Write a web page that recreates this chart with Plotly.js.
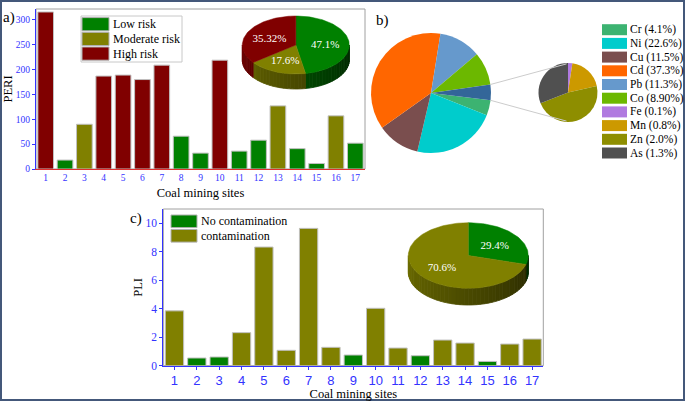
<!DOCTYPE html>
<html><head><meta charset="utf-8">
<script src="https://cdn.plot.ly/plotly-3.0.1.min.js"></script>
<style>html,body{margin:0;padding:0;background:#fff}#chart{width:685px;height:401px}</style>
</head><body><div id="chart"></div>
<script>
// ---------------- DATA ----------------
const sites = [1,2,3,4,5,6,7,8,9,10,11,12,13,14,15,16,17];
const peri = [316,18,90,187,189,180,209,66,32,219,36,58,127,41,11,107,52];
const periRisk = ['High risk','Low risk','Moderate risk','High risk','High risk','High risk','High risk','Low risk','Low risk','High risk','Low risk','Low risk','Moderate risk','Low risk','Low risk','Moderate risk','Low risk'];
const riskClasses = ['Low risk','Moderate risk','High risk'];
const riskColors = ['#008000','#808000','#800000'];
const riskPieShares = [47.1, 17.6, 35.32];
const riskPieLabels = ['47.1%','17.6%','35.32%'];

const mainMetals = ['Cr','Ni','Cu','Cd','Pb','Co'];
const mainShares = [4.1,22.6,11.5,37.3,11.3,8.9];
const mainColors = ['#3cb371','#00cccc','#7a4e4e','#ff6600','#6699cc','#6cb800'];
const minorMetals = ['Fe','Mn','Zn','As'];
const minorShares = [0.1,0.8,2.0,1.3];
const minorColors = ['#b07ae0','#cc9900','#8e8e00','#505050'];
const otherLabel = 'Fe+Mn+Zn+As';
const otherColor = '#336699';
const metalLegendText = ['Cr (4.1%)','Ni (22.6%)','Cu (11.5%)','Cd (37.3%)','Pb (11.3%)','Co (8.90%)','Fe (0.1%)','Mn (0.8%)','Zn (2.0%)','As (1.3%)'];

const pli = [3.85,0.54,0.61,2.32,8.33,1.08,9.64,1.29,0.75,4.03,1.24,0.70,1.80,1.59,0.30,1.52,1.87];
const pliClass = ['contamination','No contamination','No contamination','contamination','contamination','contamination','contamination','contamination','No contamination','contamination','contamination','No contamination','contamination','contamination','No contamination','contamination','contamination'];
const pliClasses = ['No contamination','contamination'];
const pliColors = ['#008000','#808000'];
const pliPieShares = [29.4, 70.6];
const pliPieLabels = ['29.4%','70.6%'];

// ---------------- HELPERS ----------------
const W = 685, H = 401;
const px = x => x / W, py = y => 1 - y / H;
const serif = 'Liberation Serif, Times New Roman, serif';
const sans = 'Liberation Sans, Arial, sans-serif';
const blue = '#3333ff';

function shade(hex, f) {
  const n = parseInt(hex.slice(1), 16);
  const r = Math.round(((n >> 16) & 255) * f), g = Math.round(((n >> 8) & 255) * f), b = Math.round((n & 255) * f);
  return 'rgb(' + r + ',' + g + ',' + b + ')';
}

function pie3d(shares, colors, labels, geo) {
  const out = [];
  const total = shares.reduce((a, b) => a + b, 0);
  let acc = 0;
  const slices = shares.map((v, i) => { const a1 = acc; acc += v / total * 360; return {a1: a1, a2: acc, i: i}; });
  const pt = (deg, dy) => [geo.cx + geo.rx * Math.sin(deg * Math.PI / 180), geo.cy - geo.ry * Math.cos(deg * Math.PI / 180) + (dy || 0)];
  // side walls (front half only)
  slices.forEach(s => {
    const lo = Math.max(s.a1, 90), hi = Math.min(s.a2, 270);
    if (hi <= lo) return;
    const n = Math.max(1, Math.ceil((hi - lo) / 4));
    for (let k = 0; k < n; k++) {
      const t1 = lo + (hi - lo) * k / n, t2 = lo + (hi - lo) * (k + 1) / n, tm = (t1 + t2) / 2;
      const P = [pt(t1), pt(tm), pt(t2), pt(t2, geo.depth), pt(tm, geo.depth), pt(t1, geo.depth), pt(t1)];
      const c = shade(colors[s.i], 0.3 + 0.55 * ((tm - 90) / 180));
      out.push({type: 'scatter', xaxis: 'x3', yaxis: 'y3', x: P.map(p => p[0]), y: P.map(p => p[1]),
        mode: 'lines', fill: 'toself', fillcolor: c, line: {color: c, width: 0.8}, hoverinfo: 'skip', showlegend: false});
    }
  });
  // top faces
  slices.forEach(s => {
    const P = [[geo.cx, geo.cy]];
    const n = Math.max(2, Math.ceil((s.a2 - s.a1) / 2));
    for (let k = 0; k <= n; k++) P.push(pt(s.a1 + (s.a2 - s.a1) * k / n));
    P.push([geo.cx, geo.cy]);
    out.push({type: 'scatter', xaxis: 'x3', yaxis: 'y3', x: P.map(p => p[0]), y: P.map(p => p[1]),
      mode: 'lines', fill: 'toself', fillcolor: colors[s.i], line: {color: colors[s.i], width: 0.5}, hoverinfo: 'skip', showlegend: false});
  });
  // labels
  const L = slices.map(s => pt((s.a1 + s.a2) / 2).map((v, j) => j === 0 ? geo.cx + (v - geo.cx) * 0.55 : geo.cy + (v - geo.cy) * 0.55 + 1.5));
  out.push({type: 'scatter', xaxis: 'x3', yaxis: 'y3', mode: 'text', x: L.map(p => p[0]), y: L.map(p => p[1]),
    text: labels, textfont: {family: serif, size: 11, color: '#ffffff'}, hoverinfo: 'skip', showlegend: false});
  return out;
}

// ---------------- TRACES ----------------
const traces = [];
traces.push({type: 'bar', x: sites, y: peri, xaxis: 'x', yaxis: 'y', width: 0.81,
  marker: {color: periRisk.map(r => riskColors[riskClasses.indexOf(r)]), line: {color: '#c0c0c0', width: 1}},
  hoverinfo: 'skip', showlegend: false});
traces.push({type: 'bar', x: sites, y: pli, xaxis: 'x2', yaxis: 'y2', width: 0.82,
  marker: {color: pliClass.map(r => pliColors[pliClasses.indexOf(r)]), line: {color: '#c0c0c0', width: 1}},
  hoverinfo: 'skip', showlegend: false});

const otherSum = minorShares.reduce((a, b) => a + b, 0);
const big = {cx: 431, cy: 93, r: 60};
const small = {cx: 568, cy: 92.5, r: 29.5};
traces.push({type: 'pie', labels: mainMetals.concat([otherLabel]), values: mainShares.concat([otherSum]),
  marker: {colors: mainColors.concat([otherColor]), line: {width: 0}}, sort: false, direction: 'clockwise', rotation: 97,
  textinfo: 'none', hoverinfo: 'none', showlegend: false,
  domain: {x: [px(big.cx - big.r), px(big.cx + big.r)], y: [py(big.cy + big.r), py(big.cy - big.r)]}});
traces.push({type: 'pie', labels: minorMetals, values: minorShares,
  marker: {colors: minorColors, line: {width: 0}}, sort: false, direction: 'clockwise', rotation: 0,
  textinfo: 'none', hoverinfo: 'none', showlegend: false,
  domain: {x: [px(small.cx - small.r), px(small.cx + small.r)], y: [py(small.cy + small.r), py(small.cy - small.r)]}});

pie3d(riskPieShares, riskColors, riskPieLabels, {cx: 295.8, cy: 45, rx: 53.5, ry: 29, depth: 15}).forEach(t => traces.push(t));
pie3d(pliPieShares, pliColors, pliPieLabels, {cx: 468.3, cy: 255.5, rx: 60, ry: 32.8, depth: 16.7}).forEach(t => traces.push(t));

// ---------------- LAYOUT ----------------
const shapes = [], annotations = [];
// plot frames
shapes.push({type: 'rect', xref: 'x domain', yref: 'y domain', x0: 0, x1: 1, y0: 0, y1: 1, line: {color: '#a0a0a0', width: 1}, layer: 'below'});
shapes.push({type: 'rect', xref: 'x2 domain', yref: 'y2 domain', x0: 0, x1: 1, y0: 0, y1: 1, line: {color: '#a0a0a0', width: 1}, layer: 'below'});
// outer figure border
shapes.push({type: 'rect', xref: 'paper', yref: 'paper', x0: 0, x1: 1, y0: 0, y1: 1, line: {color: '#44587a', width: 4}});

// legend a
shapes.push({type: 'rect', xref: 'paper', yref: 'paper', x0: px(81), x1: px(182), y0: py(62), y1: py(16), line: {color: '#c8c8c8', width: 1}, fillcolor: '#ffffff'});
riskClasses.forEach((c, i) => {
  const yc = 24.2 + i * 14.7;
  shapes.push({type: 'rect', xref: 'paper', yref: 'paper', x0: px(82), x1: px(109), y0: py(yc + 6.6), y1: py(yc - 6.6), fillcolor: riskColors[i], line: {color: '#b0b0b0', width: 1}});
  annotations.push({xref: 'paper', yref: 'paper', x: px(111), y: py(yc), xanchor: 'left', yanchor: 'middle', text: c, showarrow: false, font: {family: serif, size: 12, color: '#000'}});
});
// legend c
pliClasses.forEach((c, i) => {
  const yc = 221.3 + i * 14.5;
  shapes.push({type: 'rect', xref: 'paper', yref: 'paper', x0: px(171), x1: px(197), y0: py(yc + 6.3), y1: py(yc - 6.3), fillcolor: pliColors[i], line: {color: '#b0b0b0', width: 1}});
  annotations.push({xref: 'paper', yref: 'paper', x: px(199), y: py(yc), xanchor: 'left', yanchor: 'middle', text: c, showarrow: false, font: {family: serif, size: 12, color: '#000'}});
});
// legend b
const allMetalColors = mainColors.concat(minorColors);
metalLegendText.forEach((t, i) => {
  const yc = 29.7 + i * 13.7;
  shapes.push({type: 'rect', xref: 'paper', yref: 'paper', x0: px(602), x1: px(627), y0: py(yc + 5.5), y1: py(yc - 5.5), fillcolor: allMetalColors[i], line: {width: 0}});
  annotations.push({xref: 'paper', yref: 'paper', x: px(627.5), y: py(yc), xanchor: 'left', yanchor: 'middle', text: t, showarrow: false, font: {family: serif, size: 11.5, color: '#000'}});
});
// connector lines between the pies (from the edges of the grouped slice)
const otherStart = 97 - otherSum / (mainShares.reduce((a, b) => a + b, 0) + otherSum) * 360;
[otherStart, 97].forEach((a, k) => {
  const x0 = big.cx + big.r * Math.sin(a * Math.PI / 180), y0 = big.cy - big.r * Math.cos(a * Math.PI / 180);
  const x1 = small.cx - 0.05 * small.r, y1 = small.cy + (k === 0 ? -1 : 1) * small.r * 0.97;
  shapes.push({type: 'line', xref: 'paper', yref: 'paper', x0: px(x0), y0: py(y0), x1: px(x1), y1: py(y1), line: {color: '#cccccc', width: 1}});
});
// panel letters
[['a)', 0.5, 18], ['b)', 374, 20], ['c)', 127.5, 219]].forEach(p => {
  annotations.push({xref: 'paper', yref: 'paper', x: px(p[1]), y: py(p[2]), xanchor: 'left', yanchor: 'middle', text: p[0], showarrow: false, font: {family: serif, size: 15, color: '#000'}});
});

const layout = {
  width: W, height: H, margin: {l: 0, r: 0, t: 0, b: 0}, paper_bgcolor: '#ffffff', plot_bgcolor: 'rgba(0,0,0,0)',
  showlegend: false, hovermode: false, barmode: 'overlay',
  xaxis: {domain: [px(36), px(365)], anchor: 'y', range: [0.5, 17.5], tickmode: 'array', tickvals: sites, ticktext: sites.map(String),
    showline: true, linecolor: '#e03030', linewidth: 1, ticks: '', showgrid: false, zeroline: false, automargin: false,
    tickfont: {family: serif, size: 9.5, color: blue}, title: {text: 'Coal mining sites', font: {family: serif, size: 12.5, color: '#000'}, standoff: 5}},
  yaxis: {domain: [py(169), py(9)], anchor: 'x', range: [0, 322], tickmode: 'array', tickvals: [0, 50, 100, 150, 200, 250, 300],
    showline: true, linecolor: blue, linewidth: 1, ticks: 'outside', ticklen: 3, tickcolor: blue, showgrid: false, zeroline: false, automargin: false,
    tickfont: {family: serif, size: 9.5, color: blue}, title: {text: 'PERI', font: {family: serif, size: 12.5, color: '#000'}, standoff: 0}},
  xaxis2: {domain: [px(163.3), px(543.3)], anchor: 'y2', range: [0.5, 17.5], tickmode: 'array', tickvals: sites, ticktext: sites.map(String),
    showline: true, linecolor: blue, linewidth: 1, ticks: 'outside', ticklen: 3, tickcolor: blue, showgrid: false, zeroline: false, automargin: false,
    tickfont: {family: sans, size: 13, color: blue}, title: {text: 'Coal mining sites', font: {family: serif, size: 12.5, color: '#000'}, standoff: 6}},
  yaxis2: {domain: [py(365.7), py(209)], anchor: 'x2', range: [0, 11], tickmode: 'array', tickvals: [0, 2, 4, 6, 8, 10],
    showline: true, linecolor: blue, linewidth: 1, ticks: 'outside', ticklen: 3, tickcolor: blue, showgrid: false, zeroline: false, automargin: false,
    tickfont: {family: serif, size: 11.5, color: blue}, title: {text: 'PLI', font: {family: serif, size: 12.5, color: '#000'}, standoff: 0}},
  xaxis3: {domain: [0, 1], anchor: 'y3', range: [0, W], visible: false, fixedrange: true},
  yaxis3: {domain: [0, 1], anchor: 'x3', range: [H, 0], visible: false, fixedrange: true},
  shapes: shapes, annotations: annotations
};

Plotly.newPlot('chart', traces, layout, {staticPlot: true, displayModeBar: false});
</script></body></html>
